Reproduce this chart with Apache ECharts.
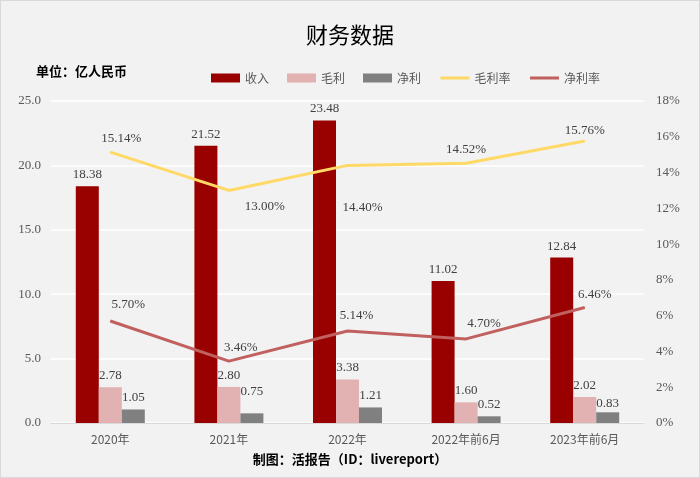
<!DOCTYPE html>
<html><head><meta charset="utf-8">
<script src="https://cdn.jsdelivr.net/npm/echarts@6/dist/echarts.min.js"></script>
<style>html,body{margin:0;padding:0;background:#fff}#c{width:698px;height:476px;border:1px solid #d9d9d9;background:#f2f2f2}</style>
</head><body><div id="c"></div>
<script>
const categories = ['2020年','2021年','2022年','2022年前6月','2023年前6月'];
const revenue = [18.38, 21.52, 23.48, 11.02, 12.84];
const grossProfit = [2.78, 2.80, 3.38, 1.60, 2.02];
const netProfit = [1.05, 0.75, 1.21, 0.52, 0.83];
const grossMargin = [15.14, 13.00, 14.40, 14.52, 15.76];
const netMargin = [5.70, 3.46, 5.14, 4.70, 6.46];
const leftTicks = {min: 0, max: 25, interval: 5};
const rightTicks = {min: 0, max: 18, interval: 2};

const numFont = 'Liberation Serif, DejaVu Serif, serif';
const cjkFont = 'Noto Sans CJK SC, sans-serif';
const lblColor = '#404040';

const grossOffsets = [[11,-2],[36,28],[15,54],[0,-2],[0,2]];
const netOffsets = [[18,-4],[12,-2],[9,-3],[18,-3],[10,-1]];
const netProfitOffsets = [[0,0],[0,-10],[0,0],[0,0],[0,3]];

const chart = echarts.init(document.getElementById('c'));
chart.setOption({
  backgroundColor: '#f2f2f2',
  animation: false,
  title: [
    {text: '财务数据', left: 'center', top: 18, textStyle: {fontFamily: cjkFont, fontSize: 22, fontWeight: 'normal', color: '#000'}},
    {text: '单位：亿人民币', left: 30, top: 59, textStyle: {fontFamily: cjkFont, fontSize: 13, fontWeight: 'bold', color: '#000'}},
    {text: '制图：活报告（ID：livereport）', left: 'center', top: 447, textStyle: {fontFamily: cjkFont, fontSize: 13, fontWeight: 'bold', color: '#000'}}
  ],
  legend: {
    top: 66, left: 205, itemWidth: 29, itemHeight: 9, itemGap: 18,
    textStyle: {fontFamily: cjkFont, fontSize: 12, color: '#595959'},
    data: [
      {name: '收入', icon: 'rect'}, {name: '毛利', icon: 'rect'}, {name: '净利', icon: 'rect'},
      {name: '毛利率', itemStyle: {opacity: 0}, lineStyle: {width: 3}},
      {name: '净利率', itemStyle: {opacity: 0}, lineStyle: {width: 3}}
    ]
  },
  grid: {left: 50, right: 55, top: 100, bottom: 54},
  xAxis: {
    type: 'category', data: categories,
    axisLine: {lineStyle: {color: '#d9d9d9', width: 1}},
    axisTick: {show: false},
    axisLabel: {fontFamily: cjkFont, fontSize: 12, color: '#595959', margin: 10}
  },
  yAxis: [
    {type: 'value', min: leftTicks.min, max: leftTicks.max, interval: leftTicks.interval,
     axisLine: {show: false}, axisTick: {show: false},
     splitLine: {lineStyle: {color: '#ffffff', width: 1.5}},
     axisLabel: {formatter: v => v.toFixed(1), fontFamily: numFont, fontSize: 13, color: '#595959', margin: 10}},
    {type: 'value', min: rightTicks.min, max: rightTicks.max, interval: rightTicks.interval,
     axisLine: {show: false}, axisTick: {show: false}, splitLine: {show: false},
     axisLabel: {formatter: v => v + '%', fontFamily: numFont, fontSize: 13, color: '#595959', margin: 12}}
  ],
  series: [
    {name: '收入', type: 'bar', data: revenue, barWidth: 23, barGap: '0%', itemStyle: {color: '#990000'},
     label: {show: true, position: 'top', formatter: p => p.value.toFixed(2), fontFamily: numFont, fontSize: 13, color: lblColor}},
    {name: '毛利', type: 'bar', data: grossProfit, barWidth: 23, itemStyle: {color: '#e2b1b1'},
     label: {show: true, position: 'top', formatter: p => p.value.toFixed(2), fontFamily: numFont, fontSize: 13, color: lblColor}},
    {name: '净利', type: 'bar', barWidth: 23, itemStyle: {color: '#808080'},
     data: netProfit.map((v, i) => ({value: v, label: {offset: netProfitOffsets[i]}})),
     label: {show: true, position: 'top', formatter: p => p.value.toFixed(2), fontFamily: numFont, fontSize: 13, color: lblColor}},
    {name: '毛利率', type: 'line', yAxisIndex: 1, symbol: 'circle', symbolSize: 1, showSymbol: true,
     lineStyle: {color: '#ffd966', width: 3}, itemStyle: {color: '#ffd966'},
     data: grossMargin.map((v, i) => ({value: v, label: {offset: grossOffsets[i]}})),
     label: {show: true, position: 'top', formatter: p => p.value.toFixed(2) + '%', fontFamily: numFont, fontSize: 13, color: lblColor}},
    {name: '净利率', type: 'line', yAxisIndex: 1, symbol: 'circle', symbolSize: 1, showSymbol: true,
     lineStyle: {color: '#c0605f', width: 3}, itemStyle: {color: '#c0605f'},
     data: netMargin.map((v, i) => ({value: v, label: {offset: netOffsets[i]}})),
     label: {show: true, position: 'top', formatter: p => p.value.toFixed(2) + '%', fontFamily: numFont, fontSize: 13, color: lblColor}}
  ]
});
</script></body></html>
